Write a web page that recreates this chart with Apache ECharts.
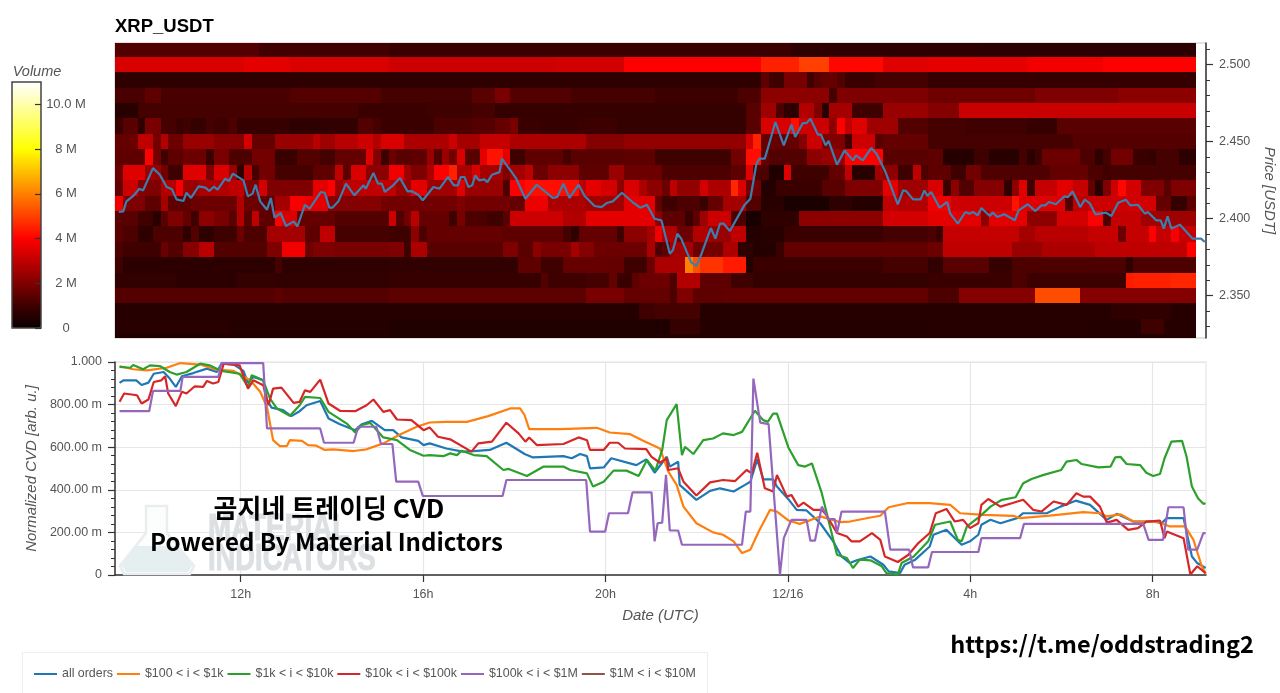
<!DOCTYPE html>
<html><head><meta charset="utf-8">
<style>html,body{margin:0;padding:0;background:#fff}#c{width:1280px;height:693px}</style>
<script src="https://cdn.jsdelivr.net/npm/echarts@6/dist/echarts.min.js"></script>
</head><body><div id="c"></div>
<script>
// Time: columns of 10 minutes counted from the left edge of the chart
const startHour = 9.2434, endHour = 33.169, columnHours = 1/6;
const xTickValues = [12,16,20,24,28,32];
const xTickLabels = ['12h','16h','20h','12/16','4h','8h'];
const priceTicks = [2.35,2.40,2.45,2.50];
const priceMinorTicks = [2.33,2.34,2.35,2.36,2.37,2.38,2.39,2.40,2.41,2.42,2.43,2.44,2.45,2.46,2.47,2.48,2.49,2.50,2.51];
const cvdTicks = [0,0.2,0.4,0.6,0.8,1];
const cvdTickLabels = ['0','200.00 m','400.00 m','600.00 m','800.00 m','1.000'];
const volumeTicks = [0,2,4,6,8,10];
const volumeTickLabels = ['0','2 M','4 M','6 M','8 M','10.0 M'];
const hotColors = ['#080000','#3f0000','#7f0000','#bf0000','#ff0000','#ff4000','#ff8000','#ffbf00','#ffff00','#ffff55','#ffffaa','#ffffff'];

// Heatmap rows: price bin centre, then [number of 10-minute columns, volume in M]
const heatPrices = [2.51,2.50,2.49,2.48,2.47,2.46,2.45,2.44,2.43,2.42,2.41,2.40,2.39,2.38,2.37,2.36,2.35,2.34,2.33,2.32];
const r251=[[19,1.3],[17,1.05],[53,.9],[25,.7],[28.25,.65]];
const r250=[[17,3.4],[6,3.6],[13,3.4],[22,3.2],[9,3.3],[18,4.0],[5,4.5],[4,5.0],[7,4.1],[6,3.5],[13,3.6],[10,3.8],[12.25,4.0]];
const r249=[[85,.7],[1,1.5],[2,1.0],[3,1.9],[1,1.0],[1,1.4],[2,1.6],[1,1.3],[4,.9],[7,1.1],[35.25,.85]];
const r248=[[4,1.15],[2,1.5],[17,1.15],[12,1.35],[12,1.1],[3,1.4],[2,1.9],[8,1.3],[11,1.1],[11,.95],[3,1.2],[9,2.2],[1,1.1],[12,2.0],[14,1.75],[11,2.0],[10.25,2.2]];
const r247=[[3,.6],[29,1.1],[3,.9],[6,.9],[6,1.0],[3,1.1],[2,.8],[8,.85],[11,.8],[12,.8],[2,1.4],[2,2.5],[1,1.2],[2,.7],[2,2.8],[1,2],[1,.6],[3,2.6],[4,1.0],[6,2.4],[4,2.1],[31.25,3.15]];
const r246=[[1,.9],[2,1.4],[1,.7],[2,1.9],[2,1.1],[1,.9],[1,1],[2,.8],[1,1.1],[2,1],[1,1.2],[7,.85],[4,.7],[5,.75],[2,1.3],[1,1.1],[7,.9],[5,1.2],[3,1.35],[2,1.6],[1,1.9],[3,.9],[5,.85],[5,.95],[5,.8],[12,.8],[2,1.4],[4,3.4],[1,4.2],[4,3.2],[1,2.2],[1,4],[1,3],[2,3.5],[4,2.5],[4,1.3],[5,1.1],[8,1],[4,.85],[18.25,1.4]];
const r245=[[2,1.6],[1,1.7],[2,3],[1,1.8],[1,2.8],[2,1.7],[4,2.4],[4,2.1],[1,3.3],[3,1.6],[5,2.4],[1,2.9],[2,2.5],[3,2.9],[2,3.2],[1,2.8],[3,3.4],[2,2.7],[4,2.7],[1,3.2],[3,2.6],[4,3.1],[10,2.7],[5,2.1],[16,2.3],[1,3.3],[1,4.5],[5,1.6],[1,2.1],[2,3.2],[3,2],[1,1],[3,3.2],[1,1.4],[6,1.6],[19,1.1],[16.25,1.35]];
const r244=[[4,1.5],[1,4],[1,1.8],[1,1],[2,1.5],[3,1.7],[1,.9],[2,1.9],[3,1.2],[3,1.8],[3,.9],[3,1.3],[2,1.1],[4,1.6],[1,3.5],[1,2.1],[1,1.0],[1,1.7],[2,1.4],[2,1.5],[1,2.4],[1,1.3],[1,2.4],[1,1.8],[1,3.4],[2,1.4],[1,3.6],[2,4.3],[1,3.6],[2,1],[5,1.5],[1,1.1],[7,1.4],[4,1.5],[10,1.0],[2,1.8],[2,4.2],[1,1.6],[5,1.3],[2,2.2],[3,2.4],[5,4],[6,1.4],[2,1.5],[4,.55],[2,1],[4,.6],[1,1.1],[1,.65],[1,1],[5,1.7],[2,1.2],[1,.7],[1,1.1],[3,1.8],[2,.9],[1,.8],[3,1.1],[2.25,.65]];
const r243=[[1,1.7],[3,3.5],[2,2.4],[1,1.8],[2,1],[3,3.5],[1,2],[2,3.4],[1,2.4],[1,.7],[1,3],[1,1.1],[2,1.8],[5,1.1],[3,1.5],[1,3],[1,1.5],[2,3.4],[3,2.2],[2,3.8],[1,2.5],[2,2],[1,2.7],[2,4],[1,4.5],[2,2.7],[1,3.4],[3,2.6],[1,2],[2,2.6],[1,3],[2,1.7],[4,2.2],[4,1.5],[2,2.4],[4,1.7],[1,1.7],[9,1.2],[2,1.5],[1,3.5],[2,1.2],[2,.4],[1,3.5],[5,1],[2,1.6],[1,3],[3,.6],[1,2.5],[2,2.2],[2,1],[1,3],[1,1.2],[3,1.5],[2,1],[2,1.8],[9,1.25],[5,1.6],[2,1.2],[1,1],[11.25,1.1]];
const r242=[[1,1.6],[2,3.2],[1,2.1],[2,2],[2,2.8],[1,3.9],[2,2.4],[2,2.7],[2,2.8],[2,3],[2,2],[1,3.3],[6,2],[2,3.6],[1,4],[1,2.4],[6,3],[1,3],[2,2.4],[2,3.6],[4,2.5],[1,3.5],[5,2.4],[1,1.2],[2,4],[7,4.2],[1,3],[2,3.6],[2,3.3],[1,2.2],[2,3.4],[1,2.7],[1,2.2],[1,2.2],[1,1.7],[1,3],[3,2.3],[1,3.3],[3,2.7],[1,4.6],[1,3.4],[2,1.8],[2,.5],[6,.9],[3,1.4],[5,2],[2,3.6],[4,2.5],[2,3.4],[1,.9],[1,2.2],[2,1.3],[4,2.1],[1,.7],[1,2.2],[1,3.5],[1,1],[3,3.1],[2,3.6],[2,3.1],[1,1.6],[1,.6],[1,2],[1,3.2],[1,4.1],[2,3.3],[3,2],[1,1.4],[3.25,2]];
const r241=[[1,3.8],[3,2],[2,1.5],[1,2.6],[3,1.5],[6,1.7],[1,2.8],[2,1.7],[2,1.6],[2,2.6],[2,3.9],[3,3.6],[7,2.1],[10,1.8],[1,2],[6,1.8],[2,1.6],[3,3.7],[5,2.7],[5,2.5],[4,3.6],[1,1.6],[2,1],[3,1.2],[1,.9],[2,1.6],[3,2.6],[2,1.3],[3,.6],[6,.35],[3,.7],[4,.5],[2,3],[4,2.8],[3,3.8],[8,3.2],[1,4.3],[6,3.5],[1,1.3],[2,3],[5,3.2],[4,3.3],[2,1.6],[2,.8],[1.25,1.5]];
const r240=[[3,1.4],[2,1],[1,.6],[1,1.4],[2,2],[1,1.6],[1,1],[2,2.2],[2,1.9],[1,1.4],[1,2.8],[1,1.4],[1,3],[2,1.5],[1,4],[2,3.4],[1,1.6],[4,1.6],[7,1.3],[1,3.2],[1,1.3],[1,1.8],[1,2.9],[4,1.6],[1,1],[1,1.9],[3,1.2],[2,1],[1,1.4],[7,3.2],[3,2.8],[9,3.6],[1,2.2],[3,1.5],[1,.9],[1,1.5],[1,2.5],[3,3.2],[2,1.2],[2,.3],[5,.7],[11,2.2],[6,3.3],[7,3.6],[1,2.2],[5,3.6],[4,2.2],[4,3.3],[2,4],[1,1.2],[4,3.1],[7.25,2.5]];
const r239=[[1,1.4],[2,1.2],[2,.7],[4,1.2],[1,.7],[1,1.3],[2,.7],[3,1],[1,1.7],[3,1.2],[5,2.6],[2,1.5],[2,3],[7,1.1],[3,1],[1,2.2],[1,1.2],[10,1.6],[8,1.5],[1,1.1],[1,.7],[5,1.6],[1,1],[3,2.2],[1,2.6],[1,3.8],[2,2.8],[2,1.7],[2,2.8],[3,2.4],[2,3],[2,.5],[3,.6],[13,.9],[6,1.1],[1,1.2],[1,.9],[10,3.1],[2,2.6],[7,2.9],[4,3.1],[1,1.7],[3,3.1],[1,4],[2,3.1],[1,3.9],[2.25,3.1]];
const r238=[[1,1.2],[5,1],[1,1.7],[2,1.3],[2,2.1],[2,2.9],[7,1.3],[2,2],[3,3.8],[1,1.7],[3,2],[7,1.9],[2,2],[1,1],[2,2.7],[10,1.4],[2,2],[2,1.4],[1,2.2],[4,1.9],[1,2.6],[2,2.1],[4,1.7],[3,1.7],[1,2.7],[1,1.2],[1,1.5],[3,2.6],[1,1.7],[3,1.8],[2,2.7],[2,.7],[3,.5],[1,.9],[19,1.55],[2,1.7],[9,3],[4,2.4],[7,2.7],[12,3],[1.25,4]];
const r237=[[1,1],[20,.65],[1,1.1],[14,.7],[17,.75],[3,1.5],[3,1],[8,1.6],[3,1],[1,1.7],[4,2.7],[1,6],[1,5.3],[3,4.8],[3,4.4],[1,.5],[17,.9],[6,1.1],[2,.75],[6,1.4],[3,.8],[15,1.2],[1,.7],[8.25,1.2]];
const r236=[[8,.75],[8,.65],[5,.8],[15,.75],[20,.85],[1,1.3],[5,1],[3,1.1],[1,1.6],[2,.9],[1,1.5],[2,1.7],[2,1.7],[1,1.2],[3,2.8],[4,1.5],[3,1],[23,.8],[11,.9],[2,1.2],[13,.95],[1,4.4],[5,4.5],[3.25,4.6]];
const r235=[[21,1.35],[1,1.5],[14,1.35],[26,1.45],[5,1.9],[4,1.6],[2,1.6],[1,1.2],[2,2],[4,1.5],[27,1.55],[4,1.2],[10,2.1],[6,5.2],[15.25,2.1]];
const r234=[[69,.55],[2,1],[6,1.1],[54,.55],[8,.7],[3.25,.55]];
const r233=[[15,.6],[21,.5],[35,.45],[2,.4],[4,.8],[30,.5],[22,.55],[6,.5],[3,1],[4.25,.55]];
const r232=[[71,.45],[71.25,.5]];
const heatRows = [r251,r250,r249,r248,r247,r246,r245,r244,r243,r242,r241,r240,r239,r238,r237,r236,r235,r234,r233,r232];

// Price line: [column, price in USDT]
const priceLine=[[.5,2.4043],[1.1,2.4047],[1.5,2.4112],[2.4,2.4147],[3.2,2.4194],[3.7,2.4183],[5,2.4328],[5.9,2.4285],[6.8,2.4205],[7.5,2.419],[8.1,2.4125],[9,2.4114],[9.4,2.4168],[10,2.4134],[11,2.4209],[11.9,2.4201],[12.4,2.4179],[13,2.4207],[13.5,2.4188],[14.5,2.4259],[15,2.4244],[15.5,2.4292],[16.9,2.4248],[17.5,2.4144],[18.1,2.4162],[18.5,2.422],[19.1,2.4112],[20,2.4058],[20.5,2.4134],[21,2.4006],[21.8,2.4036],[22.5,2.3952],[23.5,2.3982],[24,2.395],[25,2.409],[25.6,2.4064],[27.1,2.4173],[27.6,2.4168],[28.2,2.4071],[28.6,2.4071],[29.4,2.4112],[30.4,2.4227],[31.5,2.4151],[32.7,2.4216],[33,2.4194],[34,2.4296],[34.6,2.4227],[35.1,2.4227],[35.5,2.4173],[36.6,2.4216],[37.5,2.4263],[38.5,2.4177],[39,2.4179],[39.9,2.4155],[40.5,2.4119],[41.9,2.4205],[42.7,2.4194],[43.8,2.427],[44.6,2.4216],[45.1,2.4216],[45.5,2.427],[46,2.427],[46.5,2.4205],[47,2.4216],[47.4,2.4281],[47.9,2.4248],[48.6,2.4255],[49,2.4237],[49.6,2.4285],[50.6,2.4302],[50.9,2.4389],[52.2,2.4302],[52.8,2.4259],[54,2.4129],[55.5,2.422],[57.6,2.4134],[58.2,2.4141],[59,2.4227],[59.8,2.4134],[61,2.422],[61.8,2.4147],[63.1,2.4082],[64,2.4075],[64.7,2.4101],[65.5,2.4112],[66.7,2.4168],[68.2,2.4103],[69.1,2.4071],[70,2.409],[71,2.3999],[71.9,2.3989],[73,2.3772],[73.4,2.3794],[74,2.3902],[74.5,2.387],[75.8,2.3718],[76.5,2.3692],[77.1,2.3762],[78.4,2.3939],[79,2.387],[79.6,2.3967],[80.1,2.3967],[80.9,2.392],[82.8,2.4086],[83.6,2.4129],[84.4,2.4356],[84.8,2.4389],[85.5,2.4389],[86.9,2.4627],[88,2.4475],[89,2.461],[89.5,2.453],[90.5,2.462],[91,2.462],[91.5,2.4649],[92.5,2.4545],[92.9,2.4545],[93.5,2.4475],[93.9,2.4504],[95,2.435],[96,2.4443],[97.1,2.4378],[97.5,2.4411],[98.4,2.4378],[99.5,2.4458],[100.2,2.4421],[101.3,2.4313],[103,2.4093],[103.7,2.4183],[104.1,2.4179],[105,2.4125],[106,2.4125],[106.5,2.4183],[106.9,2.4147],[107.4,2.4173],[108.5,2.4071],[109.5,2.4108],[109.9,2.4032],[110.9,2.3967],[111.9,2.4043],[112.4,2.4032],[112.9,2.4043],[113.5,2.4021],[114,2.4069],[115.1,2.4017],[115.5,2.4039],[116.1,2.401],[117,2.4028],[118.4,2.3989],[118.9,2.4054],[120.1,2.4093],[121.1,2.4049],[121.9,2.4086],[122.4,2.4086],[122.9,2.4108],[123.8,2.4093],[124.9,2.4144],[125.4,2.414],[126,2.4177],[127,2.4075],[127.6,2.4123],[128.3,2.4097],[129,2.4028],[130.4,2.4039],[131.1,2.4017],[132,2.4103],[133,2.4123],[133.6,2.4086],[134.6,2.409],[135.5,2.4032],[135.9,2.4043],[137,2.3989],[137.6,2.3989],[138,2.3935],[138.5,2.4015],[139,2.3935],[140.1,2.3961],[141,2.3913],[141.8,2.387],[142.9,2.387],[143.4,2.3848]];

// Normalised CVD lines: [column, value]
const cvdAll=[[.6,.902],[1.1,.914],[2.8,.914],[3.5,.892],[4.4,.903],[5.1,.945],[6.4,.953],[7.2,.922],[8,.883],[8.8,.933],[10.3,.948],[12.1,.969],[13.4,.953],[14,.992],[15.6,.989],[16.9,.958],[17.5,.902],[18.2,.93],[19.5,.914],[20,.821],[20.6,.786],[22.1,.774],[23.2,.746],[24.3,.769],[25.2,.797],[27,.817],[28.1,.735],[29.6,.708],[31.6,.68],[32.5,.708],[33.8,.724],[35.5,.68],[36.6,.68],[37.7,.646],[39.9,.63],[40.6,.61],[41.4,.618],[43.6,.594],[45.8,.579],[47.2,.582],[49.3,.587],[51.5,.621],[53.9,.568],[55,.552],[59,.558],[60.1,.548],[61.2,.568],[62.1,.558],[62.5,.501],[64.3,.505],[65.3,.548],[68.6,.516],[69.9,.543],[71,.48],[72.6,.555],[73,.509],[74.1,.532],[74.3,.423],[76.5,.353],[78.3,.395],[79.6,.407],[81.4,.392],[82.9,.423],[83.6,.438],[84.5,.543],[85.3,.449],[86.6,.449],[87.1,.415],[88.6,.356],[89.7,.306],[91,.303],[92.8,.243],[94.5,.158],[95.6,.087],[96.7,.056],[97.6,.069],[99.4,.087],[101.1,.048],[101.8,.017],[103.3,.009],[103.9,.048],[105.3,.072],[107.2,.134],[107.7,.189],[109.4,.212],[111.4,.142],[112.5,.158],[113.6,.189],[114,.236],[115.2,.259],[116.5,.243],[118.7,.267],[119.5,.29],[120.6,.29],[122.6,.29],[124.4,.321],[126.4,.349],[128.3,.329],[130.5,.259],[131.8,.287],[134,.251],[136.6,.251],[137.7,.243],[138.4,.267],[140.6,.267],[141.7,.087],[142.4,.056],[143.5,.033]];
const cvd100=[[.6,.98],[2.4,.966],[4.2,.961],[6.8,.973],[8.6,.995],[11.2,.988],[13.4,.964],[15.6,.958],[17.8,.914],[19.1,.86],[20,.789],[20.8,.633],[21.7,.605],[22.6,.605],[23,.633],[24.6,.63],[25.4,.61],[26.5,.607],[27.6,.587],[28.7,.59],[31.4,.582],[33.1,.59],[35.3,.618],[37.5,.66],[39.7,.696],[41.4,.716],[43.6,.719],[46.3,.719],[49.1,.746],[52,.782],[53.3,.782],[53.9,.75],[54.5,.685],[58.6,.685],[63.4,.691],[65.1,.669],[67.8,.661],[69.5,.63],[71.7,.594],[72.8,.485],[73.9,.423],[74.8,.321],[76.5,.243],[78.7,.2],[80,.189],[81.4,.158],[82.5,.103],[83.6,.119],[84.7,.204],[86.2,.306],[87.1,.298],[88.6,.256],[90.1,.24],[92.8,.275],[95.4,.248],[96.7,.251],[99.4,.27],[100.7,.278],[101.8,.318],[104.2,.337],[107.2,.337],[109.9,.329],[111.2,.29],[114.3,.282],[118.2,.278],[119.1,.267],[123,.279],[127.4,.295],[129.6,.29],[130.5,.275],[132.3,.285],[134,.251],[137,.251],[138.8,.228],[140.8,.228],[141.9,.165],[143,.041],[143.5,.006]];
const cvd1k=[[.6,.977],[2,.973],[2.4,.986],[3.7,.966],[4.6,.984],[5.9,.981],[7.2,.953],[8.1,.941],[9.4,.953],[11.2,.992],[12.5,.984],[14,.958],[16.4,.945],[17.5,.883],[18,.938],[19.5,.914],[20.4,.828],[21.3,.782],[23,.747],[24.3,.797],[25,.836],[27,.831],[28.1,.766],[30.5,.711],[31.6,.669],[32.5,.704],[33.6,.714],[35.3,.646],[37.1,.633],[38.8,.587],[40.6,.56],[41.4,.563],[43.2,.558],[44.1,.571],[45,.563],[45.6,.583],[47.2,.563],[48.9,.558],[51.1,.493],[51.8,.498],[54.2,.465],[56.4,.509],[59,.509],[59.9,.493],[62.1,.477],[62.9,.415],[64.3,.438],[65.6,.49],[67.3,.49],[68.9,.465],[70,.54],[71.1,.49],[72,.587],[72.6,.727],[73.9,.802],[74.6,.563],[75,.602],[76.1,.568],[77.4,.633],[78.7,.641],[80,.665],[81.4,.657],[82.5,.672],[84.2,.771],[85.3,.727],[85.9,.719],[86.6,.758],[87.1,.758],[88.6,.599],[89.9,.516],[90.8,.509],[91.7,.524],[93,.384],[95,.095],[96.3,.08],[97.1,.033],[98,.072],[99.4,.069],[100.9,.041],[101.5,.009],[103,.002],[103.5,.056],[105.1,.087],[107,.158],[107.9,.236],[109.9,.251],[110.9,.165],[111.4,.158],[112.1,.228],[113.8,.275],[115.2,.321],[116.7,.353],[118.5,.365],[119.5,.431],[120.6,.451],[122.2,.47],[124.5,.493],[125.2,.532],[126.5,.54],[127.2,.521],[129.4,.505],[131,.509],[131.6,.552],[132.3,.555],[133.1,.521],[134.9,.516],[135.7,.48],[136.6,.465],[137.5,.474],[138.1,.548],[139,.626],[140.4,.63],[141,.555],[141.7,.415],[142.5,.36],[143.2,.334],[143.5,.337]];
const cvd10k=[[.6,.813],[1.2,.852],[2.9,.844],[3.5,.805],[4.4,.824],[5.1,.906],[6.1,.914],[6.6,.933],[7,.852],[8,.793],[8.8,.86],[9.4,.852],[10.5,.886],[11.6,.883],[12.1,.911],[12.9,.899],[13.6,.906],[14.3,.992],[16.4,.984],[17.5,.875],[18.2,.914],[19.5,.891],[20.2,.797],[20.8,.875],[21.9,.88],[23.5,.808],[24.3,.813],[25,.867],[25.7,.86],[27,.917],[28.1,.805],[29.6,.771],[31.6,.769],[33.1,.797],[34,.824],[35.3,.766],[36.2,.774],[37.1,.73],[39,.727],[40.6,.68],[41.4,.693],[42.5,.649],[44.1,.637],[46.9,.579],[47.8,.618],[49.6,.626],[51.5,.715],[53.1,.665],[54,.626],[54.5,.646],[55.5,.61],[59,.615],[61,.646],[62.1,.633],[62.5,.587],[64.3,.587],[65.1,.621],[66.2,.621],[67.1,.594],[69.9,.591],[70.6,.555],[71.7,.527],[72.6,.548],[72.8,.493],[74.1,.501],[74.8,.438],[76.5,.373],[78.3,.435],[80,.446],[81.6,.441],[83.1,.493],[83.8,.477],[84.5,.574],[85.5,.407],[86.6,.392],[87.1,.47],[88.4,.368],[89,.376],[89.9,.321],[90.6,.34],[91.9,.306],[93,.306],[93.6,.282],[95,.197],[96.3,.181],[96.9,.158],[98,.158],[99.6,.197],[100.7,.165],[101.3,.087],[103,.061],[104.4,.095],[105.7,.15],[107.2,.197],[108,.29],[109.4,.31],[110.5,.251],[111.6,.259],[112.5,.22],[113.6,.243],[114,.329],[114.9,.357],[116.5,.321],[118,.337],[119.5,.353],[120.8,.306],[121.9,.298],[123.5,.345],[125.2,.329],[126.5,.384],[127.4,.368],[128.3,.368],[129.6,.321],[130.5,.246],[131.8,.259],[133.3,.212],[134.6,.22],[135.7,.251],[137.5,.256],[138.1,.173],[138.4,.204],[140.6,.173],[141.5,.002],[142.4,.041],[143.5,.009]];
const cvd100k=[[.6,.769],[4.5,.769],[5,.864],[8.6,.864],[8.9,.93],[13.6,.93],[14,.995],[19.5,.995],[20,.688],[27,.688],[27.5,.621],[31.4,.621],[32,.696],[34.4,.696],[35,.615],[36.5,.615],[37,.438],[39.9,.438],[40.5,.371],[51,.371],[51.5,.446],[62,.446],[62.5,.204],[64.5,.204],[65,.29],[67.5,.29],[68.1,.388],[70.6,.388],[71,.158],[71.4,.243],[72,.246],[72.5,.47],[73,.209],[74.1,.209],[74.6,.142],[82.5,.142],[83,.298],[83.6,.298],[84,.922],[84.9,.715],[86,.708],[87.5,.002],[88,.173],[89,.259],[91,.259],[91.5,.161],[92.1,.161],[93,.321],[93.9,.262],[94.7,.262],[95,.197],[95.6,.298],[101.3,.298],[102,.119],[104.5,.119],[105,.036],[107,.036],[107.5,.108],[113.6,.108],[114,.173],[119.1,.173],[119.6,.24],[135.3,.24],[136,.165],[137.9,.165],[138.6,.318],[140.6,.318],[141.2,.119],[142.4,.119],[143.2,.197],[143.5,.197]];
const cvd1m=[];

const legendNames=['all orders','$100 < i < $1k','$1k < i < $10k','$10k < i < $100k','$100k < i < $1M','$1M < i < $10M'];
const lineColors=['#1f77b4','#ff7f0e','#2ca02c','#d62728','#9467bd','#8c564b'];
const cvdLines=[cvdAll,cvd100,cvd1k,cvd10k,cvd100k,cvd1m];

const toHour=c=>startHour+c*columnHours;
const heatData=[];
heatRows.forEach((row,i)=>{let c=0;row.forEach(([n,v])=>{heatData.push([toHour(c),toHour(c+n),heatPrices[i],v]);c+=n;});});

const font='"Liberation Sans",Arial,sans-serif', grey='#555';
const nameStyle={fontFamily:font,fontSize:15,fontStyle:'italic',color:grey};
const labelStyle={fontFamily:font,fontSize:12.5,color:grey};
const darkLine={lineStyle:{color:'#333',width:1.5}};

const chart=echarts.init(document.getElementById('c'),null,{renderer:'canvas'});
chart.setOption({
  animation:false,backgroundColor:'#fff',
  title:{text:'XRP_USDT',left:115,top:17,padding:0,textStyle:{fontFamily:font,fontWeight:'bold',fontSize:18.5,color:'#000'}},
  grid:[
    {left:115,top:43,width:1091,height:295,show:true,borderColor:'#c9c4c4',borderWidth:1,backgroundColor:'transparent',outerBoundsMode:'none'},
    {left:115,top:362,width:1091,height:213,show:true,borderColor:'#ececec',borderWidth:1.5,backgroundColor:'transparent',outerBoundsMode:'none'},
    {left:12,top:82,width:29,height:246,show:true,borderColor:'#444',borderWidth:1.5,backgroundColor:'transparent',z:5,outerBoundsMode:'none'}
  ],
  visualMap:{type:'continuous',min:0,max:11,seriesIndex:0,dimension:3,left:12,top:82,itemWidth:29,itemHeight:246,padding:0,calculable:false,hoverLink:false,realtime:false,inRange:{color:hotColors},textStyle:{fontSize:0},text:null,showLabel:false},
  xAxis:[
    {gridIndex:0,type:'value',min:startHour,max:endHour,show:false},
    {gridIndex:1,type:'value',min:startHour,max:endHour,name:'Date (UTC)',nameLocation:'middle',nameGap:33,nameTextStyle:nameStyle,
      axisLine:darkLine,axisTick:{customValues:xTickValues,length:7,lineStyle:{color:'#333',width:1.2}},
      axisLabel:{customValues:xTickValues,margin:13,...labelStyle,formatter:v=>xTickLabels[xTickValues.indexOf(v)]},
      splitLine:{show:true,lineStyle:{color:'#e6e6e6',width:1.2}}},
    {gridIndex:2,type:'value',min:0,max:1,show:false}
  ],
  yAxis:[
    {gridIndex:0,type:'value',position:'right',min:2.3225,max:2.514,name:'Price [USDT]',nameLocation:'middle',nameRotate:-90,nameGap:55,nameTextStyle:nameStyle,
      axisLine:{show:true,...darkLine},axisTick:{show:true,customValues:priceTicks,length:7,lineStyle:{color:'#333',width:1.2}},
      axisLabel:{show:true,customValues:priceTicks,margin:13,...labelStyle,formatter:v=>v.toFixed(3)},splitLine:{show:false}},
    {gridIndex:0,type:'value',position:'right',min:2.3225,max:2.514,
      axisLine:{show:false},axisTick:{show:true,customValues:priceMinorTicks,length:4,lineStyle:{color:'#333',width:1}},
      axisLabel:{show:false},splitLine:{show:false}},
    {gridIndex:1,type:'value',min:0,max:1,interval:0.2,name:'Normalized CVD [arb. u.]',nameLocation:'middle',nameRotate:90,nameGap:74,nameTextStyle:nameStyle,
      axisLine:{show:true,...darkLine},axisTick:{show:true,length:7,lineStyle:{color:'#333',width:1.2}},
      minorTick:{show:true,splitNumber:5,length:4,lineStyle:{color:'#333',width:1}},
      axisLabel:{margin:13,...labelStyle,formatter:v=>cvdTickLabels[cvdTicks.findIndex(t=>Math.abs(t-v)<1e-6)]},
      splitLine:{show:true,lineStyle:{color:'#e6e6e6',width:1.2}}},
    {gridIndex:2,type:'value',position:'right',min:0,max:11,z:10,name:'Volume',nameLocation:'end',nameGap:3,nameTextStyle:{...nameStyle,fontSize:14.5,align:'center',padding:[0,8,0,0]},
      axisLine:{show:false,onZero:false},axisTick:{show:true,inside:true,customValues:volumeTicks,length:6,lineStyle:{color:'#333',width:1.2}},
      axisLabel:{show:true,customValues:volumeTicks,align:'center',margin:25,...labelStyle,fontSize:13,formatter:v=>volumeTickLabels[volumeTicks.indexOf(v)]},
      splitLine:{show:false}}
  ],
  legend:{data:legendNames,left:34,top:668,padding:0,itemWidth:23,itemHeight:2,itemGap:4,icon:'rect',selectedMode:false,textStyle:{fontFamily:font,fontSize:12.4,color:grey}},
  graphic:[
    {type:'rect',z:1,shape:{x:22.5,y:652.5,width:685,height:60},style:{fill:'#fff',stroke:'#eeeeee',lineWidth:1}},
    {type:'polygon',z:1,shape:{points:[[146,506],[167,506],[167,533],[194,566],[190,574],[124,574],[120,566],[146,533]]},style:{fill:'#fcfdfd',stroke:'#e9eded',lineWidth:2.5}},
    {type:'polygon',z:1,shape:{points:[[134,546],[179,546],[192,566],[188,572],[126,572],[122,566]]},style:{fill:'#e6eff0'}},
    {type:'text',z:1,x:208,y:512,scaleX:.77,style:{text:'MATERIAL',font:'bold 36px '+font,fill:'#dde0e3',stroke:'#dde0e3',lineWidth:1}},
    {type:'text',z:1,x:208,y:542,scaleX:.76,style:{text:'INDICATORS',font:'bold 36px '+font,fill:'#dde0e3',stroke:'#dde0e3',lineWidth:1}},
    {type:'text',z:100,x:329,y:508,style:{text:'곰지네 트레이딩 CVD',font:'bold 26px "Noto Sans CJK KR"',fill:'#000',align:'center',verticalAlign:'middle'}},
    {type:'text',z:100,x:326.5,y:542,style:{text:'Powered By Material Indictors',font:'bold 24px "Noto Sans CJK KR"',fill:'#000',align:'center',verticalAlign:'middle'}},
    {type:'text',z:100,x:1102,y:644,style:{text:'https://t.me/oddstrading2',font:'bold 23.5px "Noto Sans CJK KR"',fill:'#000',align:'center',verticalAlign:'middle'}}
  ],
  series:[
    {type:'custom',name:'Volume',xAxisIndex:0,yAxisIndex:0,clip:true,silent:true,encode:{x:[0,1],y:2},data:heatData,z:1,
      renderItem(p,api){
        const a=api.coord([api.value(0),api.value(2)+.005]), b=api.coord([api.value(1),api.value(2)-.005]);
        const x=Math.round(a[0]),y=Math.round(a[1]);
        return {type:'rect',shape:{x,y,width:Math.round(b[0])-x,height:Math.round(b[1])-y},style:{fill:api.visual('color')}};
      }},
    {type:'line',name:'Price',xAxisIndex:0,yAxisIndex:0,silent:true,showSymbol:false,z:4,data:priceLine.map(([c,p])=>[toHour(c),p]),lineStyle:{color:'#3a7fb0',width:2.2}},
    ...cvdLines.map((d,i)=>({type:'line',name:legendNames[i],xAxisIndex:1,yAxisIndex:2,silent:true,showSymbol:false,z:3+i,clip:true,data:d.map(([c,v])=>[toHour(c),v]),itemStyle:{color:lineColors[i]},lineStyle:{color:lineColors[i],width:2.2}}))
  ]
});
</script></body></html>
